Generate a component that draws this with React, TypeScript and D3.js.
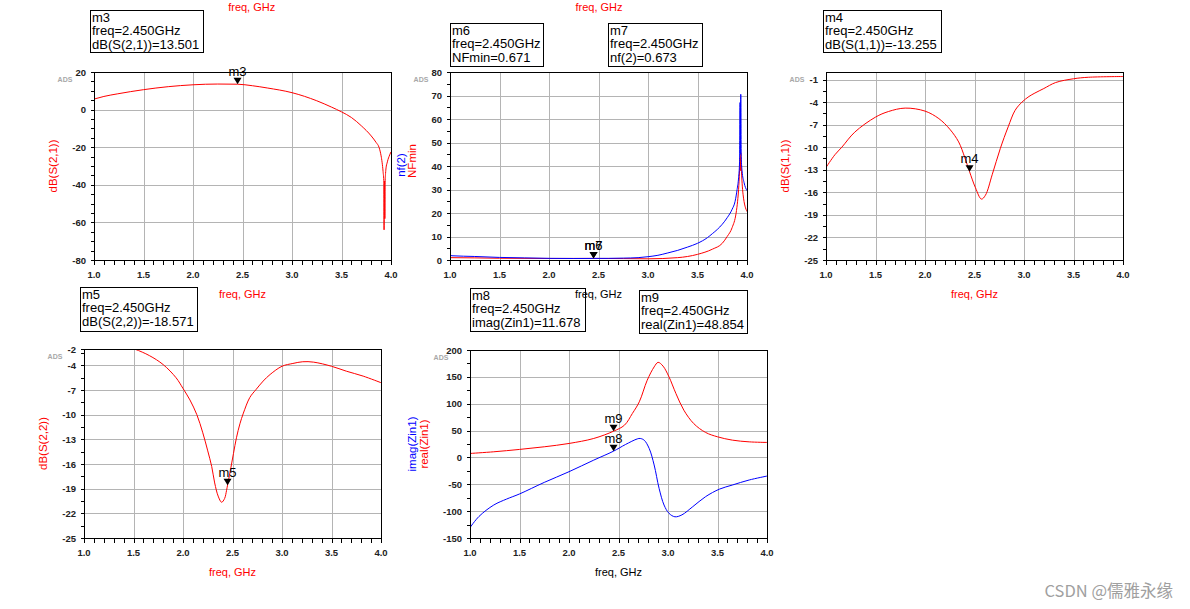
import React from 'react';
import * as d3 from 'd3';

const FONT = '"Liberation Sans", Arial, Helvetica, sans-serif';

// ---------- data (frequency in GHz) ----------
const s21Freq = [1.0, 1.1, 1.24, 1.5, 1.75, 2.0, 2.25, 2.45, 2.6, 2.75, 3.0, 3.25, 3.4, 3.5, 3.6, 3.7, 3.8, 3.85, 3.88, 3.9, 3.91, 3.92, 3.928, 3.93, 3.932, 3.936, 3.938, 3.94, 3.945, 3.95, 3.96, 3.97, 3.98, 4.0];
const s21dB = [5.6, 7.0, 8.4, 10.6, 12.2, 13.2, 13.6, 13.501, 12.7, 11.5, 9.0, 4.7, 1.3, -1.2, -4.2, -8.6, -14, -17.5, -20.2, -24.6, -28, -33, -39, -64, -40, -38, -58, -40, -34, -31, -28.5, -26.5, -25, -22.5];

const nf2Freq = [1.0, 1.02, 1.25, 1.5, 1.75, 2.0, 2.25, 2.45, 2.6, 2.75, 2.9, 3.0, 3.1, 3.2, 3.3, 3.4, 3.5, 3.6, 3.65, 3.7, 3.75, 3.8, 3.85, 3.88, 3.9, 3.915, 3.925, 3.93, 3.933, 3.937, 3.942, 3.95, 3.97, 4.0];
const nf2Val = [2.1, 1.8, 1.5, 1.1, 0.9, 0.7, 0.65, 0.673, 0.7, 0.8, 1.0, 1.4, 2.0, 3.0, 4.1, 5.5, 7.1, 9.5, 11.2, 13, 15.2, 18, 21.6, 25, 30, 35, 42, 67, 45, 70.5, 44, 38, 33, 29.5];

const nfminFreq = [1.0, 1.25, 1.5, 2.0, 2.45, 2.75, 3.0, 3.3, 3.5, 3.65, 3.75, 3.8, 3.85, 3.89, 3.905, 3.915, 3.925, 3.93, 3.933, 3.937, 3.942, 3.96, 4.0];
const nfminVal = [1.0, 0.9, 0.75, 0.65, 0.671, 0.6, 0.5, 1.0, 2.4, 4.6, 7.1, 10, 13.8, 20, 25, 30, 38, 43.7, 38, 45.8, 40, 28, 20.6];

const s11Freq = [1.0, 1.09, 1.16, 1.29, 1.5, 1.63, 1.8, 2.0, 2.14, 2.25, 2.34, 2.4, 2.45, 2.51, 2.57, 2.61, 2.68, 2.76, 2.84, 2.91, 2.98, 3.05, 3.11, 3.2, 3.32, 3.5, 3.65, 4.0];
const s11dB = [-12.7, -11, -10, -8, -6.0, -5.26, -4.8, -5.2, -6.2, -7.6, -9.3, -11.3, -13.255, -15.4, -16.9, -16.4, -13.6, -10.2, -7.3, -5.1, -4.0, -3.26, -2.8, -2.2, -1.4, -0.9, -0.7, -0.6];

const s22Freq = [1.0, 1.25, 1.51, 1.66, 1.8, 1.93, 2.0, 2.07, 2.14, 2.2, 2.25, 2.29, 2.32, 2.355, 2.39, 2.42, 2.44, 2.45, 2.475, 2.51, 2.54, 2.575, 2.61, 2.675, 2.74, 2.81, 2.88, 3.0, 3.11, 3.21, 3.32, 3.5, 3.65, 3.82, 4.0];
const s22dB = [-0.3, -1.0, -2.0, -2.8, -3.9, -5.5, -6.8, -8.2, -10, -12.2, -14.4, -16.3, -18.3, -19.9, -20.65, -20.2, -19.2, -18.571, -17, -14.7, -12.8, -11.1, -9.8, -7.9, -6.9, -5.9, -5.1, -4.1, -3.76, -3.55, -3.6, -4.1, -4.7, -5.3, -6.1];

const zinFreqRe = [1.0, 1.24, 1.5, 1.75, 2.0, 2.25, 2.45, 2.56, 2.64, 2.71, 2.79, 2.86, 2.9, 2.95, 3.01, 3.08, 3.16, 3.26, 3.38, 3.5, 3.65, 3.82, 4.0];
const zinReal = [7.4, 10.5, 14.9, 19.8, 26, 35.3, 48.854, 60, 81.8, 103.5, 143.7, 168.5, 177, 170, 150, 119, 88, 63, 46.5, 38.4, 32.2, 29, 27.9];

const zinFreqIm = [1.0, 1.09, 1.24, 1.37, 1.5, 1.75, 2.0, 2.25, 2.45, 2.57, 2.69, 2.72, 2.76, 2.81, 2.86, 2.91, 2.96, 3.01, 3.07, 3.14, 3.25, 3.38, 3.52, 3.65, 3.82, 4.0];
const zinImag = [-130.7, -110, -88.6, -77.5, -68, -46.5, -26.6, -5, 11.678, 24, 34.5, 35.3, 32, 16.7, -14, -57.6, -88.6, -104, -110.5, -107, -91.7, -73, -59, -51.4, -42, -34.7];

// tick values
const xMajorTicks = [1.0, 1.5, 2.0, 2.5, 3.0, 3.5, 4.0];
const p1YTicks = [-80, -60, -40, -20, 0, 20];
const p2YTicks = [0, 10, 20, 30, 40, 50, 60, 70, 80];
const p3YTicks = [-25, -22, -19, -16, -13, -10, -7, -4, -1];
const p4YTicks = [-25, -22, -19, -16, -13, -10, -7, -4, -2];
const p5YTicks = [-150, -100, -50, 0, 50, 100, 150, 200];

// marker readouts
const markerNames = ['m3', 'm6', 'm7', 'm4', 'm5', 'm8', 'm9'];
const markerReadouts = [
  'dB(S(2,1))=13.501',
  'NFmin=0.671',
  'nf(2)=0.673',
  'dB(S(1,1))=-13.255',
  'dB(S(2,2))=-18.571',
  'imag(Zin1)=11.678',
  'real(Zin1)=48.854',
];
const markerFreqLabel = 'freq=2.450GHz';

type Series = { f: number[]; v: number[]; color: string; smooth?: boolean };
type Marker = { name: string; f: number; v: number };
type YLabel = { text: string; color: string; dx: number; dy?: number };

interface PlotProps {
  id: string;
  x0: number; x1: number; y0: number; y1: number;
  yDomain: [number, number];
  yTicks: number[];
  yMinorStep: number;
  series: Series[];
  markers: Marker[];
  yLabels: YLabel[];
  xLabelColor: string;
}

function Plot(p: PlotProps) {
  const x = d3.scaleLinear().domain([1, 4]).range([p.x0, p.x1]);
  const y = d3.scaleLinear().domain(p.yDomain).range([p.y1, p.y0]);
  const cx = (v: number) => Math.round(x(v)) + 0.5;
  const cy = (v: number) => Math.round(y(v)) + 0.5;
  const xMinor = d3.range(0, 31).map((i) => 1 + i * 0.1);
  const yMinor: number[] = [];
  for (let v = p.yDomain[0]; v <= p.yDomain[1] + 1e-9; v += p.yMinorStep) yMinor.push(v);
  const mkLine = (smooth?: boolean) =>
    d3
      .line<[number, number]>()
      .x((d) => x(d[0]))
      .y((d) => y(d[1]))
      .curve(smooth ? d3.curveCatmullRom.alpha(0.5) : d3.curveMonotoneX);
  const fmt = d3.format('.1f');
  const left = Math.round(p.x0) + 0.5;
  const right = Math.round(p.x1) + 0.5;
  const top = Math.round(p.y0) + 0.5;
  const bottom = Math.round(p.y1) + 0.5;
  const midY = (p.y0 + p.y1) / 2;
  return (
    <g>
      <defs>
        <clipPath id={`clip-${p.id}`}>
          <rect x={p.x0} y={p.y0} width={p.x1 - p.x0 + 1} height={p.y1 - p.y0 + 1} />
        </clipPath>
      </defs>
      {/* grid */}
      <g stroke="#b4b4b4" strokeWidth={1} shapeRendering="crispEdges">
        {xMajorTicks.slice(1, -1).map((t) => (
          <line key={`gx${t}`} x1={cx(t)} x2={cx(t)} y1={top} y2={bottom} />
        ))}
        {p.yTicks
          .filter((t) => t > p.yDomain[0] && t < p.yDomain[1])
          .map((t) => (
            <line key={`gy${t}`} x1={left} x2={right} y1={cy(t)} y2={cy(t)} />
          ))}
      </g>
      {/* ticks */}
      <g stroke="#000" strokeWidth={1} shapeRendering="crispEdges">
        {xMinor.map((t) => (
          <line key={`tx${t.toFixed(2)}`} x1={cx(t)} x2={cx(t)} y1={bottom} y2={bottom + 4} />
        ))}
        {yMinor.map((t) => (
          <line key={`ty${t.toFixed(2)}`} x1={left - 4} x2={left} y1={cy(t)} y2={cy(t)} />
        ))}
        {p.yTicks.map((t) => (
          <line key={`tyM${t}`} x1={left - 4} x2={left} y1={cy(t)} y2={cy(t)} />
        ))}
      </g>
      {/* curves */}
      <g clipPath={`url(#clip-${p.id})`}>
        {p.series.map((s, i) => (
          <path
            key={i}
            d={mkLine(s.smooth)(s.f.map((f, k) => [f, s.v[k]] as [number, number])) || ''}
            fill="none"
            stroke={s.color}
            strokeWidth={1}
          />
        ))}
      </g>
      {/* frame */}
      <rect x={left} y={top} width={right - left} height={bottom - top} fill="none" stroke="#000" strokeWidth={1} shapeRendering="crispEdges" />
      {/* tick labels */}
      <g fontFamily={FONT} fontSize={9.5} fontWeight="bold" fill="#222">
        {xMajorTicks.map((t) => (
          <text key={`lx${t}`} x={x(t)} y={p.y1 + 18} textAnchor="middle">
            {fmt(t)}
          </text>
        ))}
        {p.yTicks.map((t) => (
          <text key={`ly${t}`} x={p.x0 - 8} y={y(t) + 3.5} textAnchor="end">
            {t}
          </text>
        ))}
      </g>
      <text x={p.x0 - 29} y={p.y0 + 10} fontFamily={FONT} fontSize={7} fontWeight="bold" fill="#a8a8a8" textAnchor="middle">
        ADS
      </text>
      {/* y labels */}
      {p.yLabels.map((l, i) => (
        <text
          key={i}
          transform={`translate(${p.x0 - l.dx},${midY + (l.dy || 0)}) rotate(-90)`}
          textAnchor="middle"
          fontFamily={FONT}
          fontSize={11.5}
          fill={l.color}
        >
          {l.text}
        </text>
      ))}
      {/* x label */}
      <text x={(p.x0 + p.x1) / 2} y={p.y1 + 37.5} textAnchor="middle" fontFamily={FONT} fontSize={11} fill={p.xLabelColor}>
        freq, GHz
      </text>
      {/* markers */}
      {p.markers.map((m) => {
        const px = x(m.f);
        const py = y(m.v);
        return (
          <g key={m.name}>
            <path d={`M${px - 4},${py - 6.5}L${px + 4},${py - 6.5}L${px},${py}Z`} fill="#000" />
            <text x={px} y={py - 8.5} textAnchor="middle" fontFamily={FONT} fontSize={13} fill="#000">
              {m.name}
            </text>
          </g>
        );
      })}
    </g>
  );
}

function MarkerBox({ x, y, w, h, idx }: { x: number; y: number; w: number; h: number; idx: number }) {
  return (
    <g>
      <rect x={x + 0.5} y={y + 0.5} width={w} height={h} fill="none" stroke="#000" strokeWidth={1} shapeRendering="crispEdges" />
      <g fontFamily={FONT} fontSize={13} fill="#000">
        <text x={x + 2} y={y + 11.5}>{markerNames[idx]}</text>
        <text x={x + 2} y={y + 25}>{markerFreqLabel}</text>
        <text x={x + 2} y={y + 38.5}>{markerReadouts[idx]}</text>
      </g>
    </g>
  );
}

export default function App() {
  return (
    <svg
      width={1190}
      height={609}
      style={{ position: 'absolute', left: 0, top: 0, background: '#fff' }}
    >
      <rect x={0} y={0} width={1190} height={609} fill="#fff" />
      {/* stray top labels */}
      <text x={251.7} y={11} textAnchor="middle" fontFamily={FONT} fontSize={11} fill="#ff0000">freq, GHz</text>
      <text x={599} y={11} textAnchor="middle" fontFamily={FONT} fontSize={11} fill="#ff0000">freq, GHz</text>

      <Plot
        id="p1"
        x0={94} x1={391} y0={72} y1={260}
        yDomain={[-80, 20]}
        yTicks={p1YTicks}
        yMinorStep={5}
        series={[{ f: s21Freq, v: s21dB, color: '#ff0000' }]}
        markers={[{ name: 'm3', f: 2.45, v: 13.501 }]}
        yLabels={[{ text: 'dB(S(2,1))', color: '#ff0000', dx: 37 }]}
        xLabelColor="#ff0000"
      />
      <Plot
        id="p2"
        x0={450} x1={747} y0={72} y1={260}
        yDomain={[0, 80]}
        yTicks={p2YTicks}
        yMinorStep={5}
        series={[
          { f: nfminFreq, v: nfminVal, color: '#ff0000' },
          { f: nf2Freq, v: nf2Val, color: '#0000ff' },
        ]}
        markers={[
          { name: 'm6', f: 2.45, v: 0.671 },
          { name: 'm7', f: 2.45, v: 0.673 },
        ]}
        yLabels={[
          { text: 'nf(2)', color: '#0000ff', dx: 45.5, dy: -1 },
          { text: 'NFmin', color: '#ff0000', dx: 34.5, dy: -5 },
        ]}
        xLabelColor="#000"
      />
      <Plot
        id="p3"
        x0={826} x1={1123} y0={72} y1={260}
        yDomain={[-25, 0]}
        yTicks={p3YTicks}
        yMinorStep={1.5}
        series={[{ f: s11Freq, v: s11dB, color: '#ff0000', smooth: true }]}
        markers={[{ name: 'm4', f: 2.45, v: -13.255 }]}
        yLabels={[{ text: 'dB(S(1,1))', color: '#ff0000', dx: 37.5 }]}
        xLabelColor="#ff0000"
      />
      <Plot
        id="p4"
        x0={84} x1={381} y0={349} y1={538}
        yDomain={[-25, -2]}
        yTicks={p4YTicks}
        yMinorStep={1.5}
        series={[{ f: s22Freq, v: s22dB, color: '#ff0000', smooth: true }]}
        markers={[{ name: 'm5', f: 2.45, v: -18.571 }]}
        yLabels={[{ text: 'dB(S(2,2))', color: '#ff0000', dx: 37.5 }]}
        xLabelColor="#ff0000"
      />
      <Plot
        id="p5"
        x0={470} x1={767} y0={350} y1={538}
        yDomain={[-150, 200]}
        yTicks={p5YTicks}
        yMinorStep={25}
        series={[
          { f: zinFreqRe, v: zinReal, color: '#ff0000', smooth: true },
          { f: zinFreqIm, v: zinImag, color: '#0000ff', smooth: true },
        ]}
        markers={[
          { name: 'm9', f: 2.45, v: 48.854 },
          { name: 'm8', f: 2.45, v: 11.678 },
        ]}
        yLabels={[
          { text: 'imag(Zin1)', color: '#0000ff', dx: 54 },
          { text: 'real(Zin1)', color: '#ff0000', dx: 42 },
        ]}
        xLabelColor="#000"
      />

      <MarkerBox x={90} y={10} w={113} h={42} idx={0} />
      <MarkerBox x={450} y={23} w={93} h={43} idx={1} />
      <MarkerBox x={608} y={23} w={94} h={43} idx={2} />
      <MarkerBox x={823} y={10} w={118} h={42} idx={3} />
      <MarkerBox x={80} y={287} w={117} h={44} idx={4} />
      <MarkerBox x={470} y={288} w={115} h={43} idx={5} />
      <MarkerBox x={639} y={290} w={108} h={43} idx={6} />

      <text x={1173} y={597} textAnchor="end" fontFamily={'"Noto Sans CJK SC", "Noto Sans", sans-serif'} fontSize={16.5} fill="#a0a0a0">
        CSDN @儒雅永缘
      </text>
    </svg>
  );
}
